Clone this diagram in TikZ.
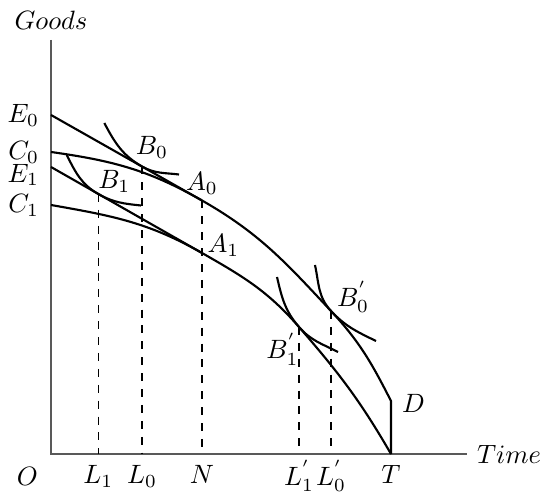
\documentclass[tikz,border=0pt]{standalone}
\usepackage{amsmath}
\usetikzlibrary{positioning}
\tikzset{
  axisline/.style={black!65, line width=0.5pt},
  curve/.style={black, line width=0.8pt},
  guide/.style={dashed, line width=0.4pt},
  lbl/.style={inner sep=1pt}
}

\begin{document}
\begin{tikzpicture}[x=3.774pt, y=3.774pt]
  \useasboundingbox (-5.1,-3.9) rectangle (48.9,45.4);
  % axes
  \coordinate (O) at (0,0);
  \coordinate (ytop) at (0,41.4);
  \coordinate (xend) at (41.6,0);
  \draw[axisline] (ytop) -- (O) -- (xend);
  % points on the curves
  \coordinate (E0) at (0,33.9);
  \coordinate (C0) at (0,30.2);
  \coordinate (E1) at (0,28.7);
  \coordinate (C1) at (0,24.9);
  \coordinate (A0) at (15.1,25.35);
  \coordinate (A1) at (15.1,20.1);
  \coordinate (B0) at (9.1,28.75);
  \coordinate (B1) at (4.73,26.0);
  \coordinate (B0p) at (28,14.3);
  \coordinate (B1p) at (24.8,12.7);
  \coordinate (D) at (34,5.3);
  \coordinate (T) at (34,0);
  \foreach \n/\p in {L1/B1, L0/B0, N/A0, L1p/B1p, L0p/B0p}
    \coordinate (\n) at (\p |- O);
  % ends of the indifference curves
  \coordinate (b0s) at (5.33,33.1);  \coordinate (b0e) at (12.8,27.95);
  \coordinate (b1s) at (1.57,29.9);  \coordinate (b1e) at (9.0,24.85);
  \coordinate (b0ps) at (26.4,18.9); \coordinate (b0pe) at (32.5,11.3);
  \coordinate (b1ps) at (22.6,17.7); \coordinate (b1pe) at (28.7,10.2);

  % frontiers and budget lines
  \draw[curve] (C0) to[out=-8,in=150.3] (A0) to[out=-29.7,in=133] (B0p)
    to[out=-47,in=117] (D) -- (T);
  \draw[curve] (C1) to[out=-10,in=150.3] (A1) to[out=-29.7,in=131] (B1p)
    to[out=-49,in=120] (T);
  \draw[curve] (E0) -- (A0);
  \draw[curve] (E1) -- (A1);

  % indifference curves
  \draw[curve] (b0s) to[out=-62,in=150.3] (B0) to[out=-29.7,in=173] (b0e);
  \draw[curve] (b1s) to[out=-63,in=150.3] (B1) to[out=-29.7,in=174] (b1e);
  \draw[curve] (b0ps) to[out=-78,in=133] (B0p) to[out=-47,in=154] (b0pe);
  \draw[curve] (b1ps) to[out=-77,in=131] (B1p) to[out=-49,in=153] (b1pe);

  \foreach \p/\n in {B1/L1, B0/L0, A0/N, B1p/L1p, B0p/L0p}
    \draw[guide] (\p) -- (\n);

  % labels
  \node[lbl, above=2.8pt] (lGoods) at (ytop) {$Goods$};
  \node[lbl, right=2.6pt] (lTime) at (xend) {$Time$};
  \node[lbl, below left=3.8pt and 3.8pt] (lO) at (O) {$O$};
  \foreach \n/\t in {L1/L_1, L0/L_0, N/N, T/T}
    \node[lbl, below=3pt] (l\n) at (\n) {$\t$};
  \foreach \n/\t in {L1p/L_1^{'}, L0p/L_0^{'}}
    \node[lbl, below=1.2pt] (l\n) at (\n) {$\t$};
  \foreach \n/\t in {E0/E_0, C0/C_0, C1/C_1}
    \node[lbl, left=3.3pt] (l\n) at (\n) {$\t$};
  \node[lbl, left=3.3pt, yshift=-3pt] (lE1) at (E1) {$E_1$};
  \node[lbl, above right=1.9pt and -3.5pt] (lB0) at (B0) {$B_0$};
  \node[lbl, above right=-0.7pt and -1.2pt] (lB1) at (B1) {$B_1$};
  \node[lbl, above=1.2pt] (lA0) at (A0) {$A_0$};
  \node[lbl, above right=-2.5pt and 0.9pt] (lA1) at (A1) {$A_1$};
  \node[lbl, above right=-1.9pt and 1.1pt] (lB0p) at (B0p) {$B_0^{'}$};
  \node[lbl, below left=1.3pt and -1pt] (lB1p) at (B1p) {$B_1^{'}$};
  \node[lbl, right=3pt, yshift=-1pt] (lD) at (D) {$D$};
\end{tikzpicture}
\end{document}
